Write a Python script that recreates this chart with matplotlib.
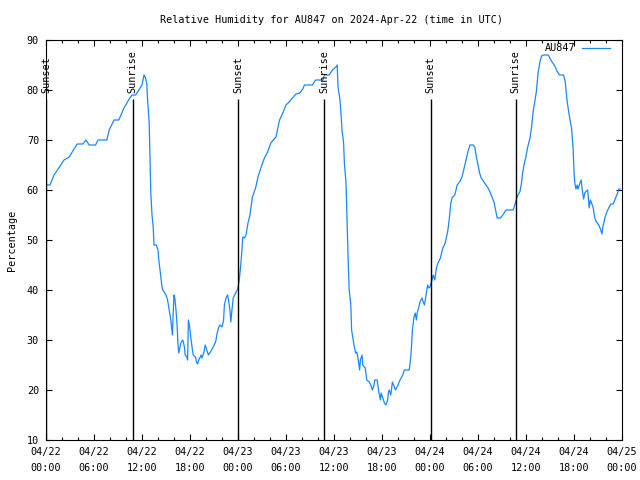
import matplotlib
matplotlib.use('Agg')
import matplotlib.pyplot as plt
import matplotlib.dates as mdates
from matplotlib.lines import Line2D
import datetime

# hours since 2024-04-22 00:00 UTC and relative humidity (%)
hours = [0.0, 0.5, 1.0, 1.6, 2.25, 2.9, 3.5, 3.9, 4.6, 5.0, 5.4, 6.2, 6.5, 7.6, 7.9, 8.5, 9.1, 9.75,
         10.4, 10.75, 11.2, 11.6, 12.0, 12.25, 12.4, 12.6, 12.7, 12.9, 13.0, 13.1, 13.25, 13.4, 13.5,
         13.8, 14.0, 14.1, 14.3, 14.5, 14.6, 15.0, 15.2, 15.4, 15.6, 15.7, 15.8, 15.9, 16.0, 16.1,
         16.25, 16.4, 16.5, 16.6, 16.75, 16.9, 17.1, 17.3, 17.4, 17.6, 17.7, 17.8, 17.95, 18.1, 18.25,
         18.4, 18.7, 18.8, 18.95, 19.1, 19.4, 19.5, 19.75, 19.9, 20.1, 20.3, 20.7, 20.9, 21.2, 21.4,
         21.6, 21.75, 22.0, 22.2, 22.3, 22.5, 22.7, 22.85, 23.0, 23.1, 23.25, 23.4, 23.7, 23.9, 24.0,
         24.2, 24.4, 24.6, 24.8, 25.0, 25.25, 25.5, 25.8, 26.2, 26.5, 26.9, 27.3, 27.7, 28.1, 28.4,
         28.75, 29.0, 29.2, 29.6, 30.0, 30.4, 30.8, 31.25, 31.7, 32.1, 32.3, 33.3, 33.7, 34.6, 34.8,
         35.4, 35.8, 36.25, 36.4, 36.5, 36.75, 36.9, 37.0, 37.2, 37.3, 37.5, 37.6, 37.7, 37.8, 37.9,
         38.1, 38.2, 38.4, 38.5, 38.7, 38.85, 39.0, 39.2, 39.3, 39.5, 39.6, 39.9, 40.1, 40.4, 40.6,
         40.8, 41.0, 41.1, 41.4, 41.6, 41.8, 41.9, 42.1, 42.3, 42.5, 42.7, 42.8, 42.9, 43.1, 43.3,
         43.45, 43.7, 44.0, 44.25, 44.6, 44.8, 45.4, 45.6, 45.7, 45.8, 46.0, 46.15, 46.3, 46.4, 46.6,
         46.75, 47.0, 47.15, 47.3, 47.45, 47.6, 47.7, 47.85, 48.0, 48.25, 48.4, 48.6, 48.8, 49.0,
         49.3, 49.6, 49.9, 50.2, 50.4, 50.6, 50.75, 51.1, 51.4, 51.7, 52.0, 52.3, 52.6, 52.8, 53.0,
         53.4, 53.6, 53.8, 54.0, 54.2, 54.4, 54.75, 55.0, 55.25, 55.5, 55.75, 56.0, 56.2, 56.4, 56.8,
         57.1, 57.5, 58.4, 58.6, 58.8, 59.0, 59.25, 59.4, 59.6, 59.8, 60.0, 60.2, 60.5, 60.7, 60.9,
         61.1, 61.3, 61.5, 61.75, 61.95, 62.2, 62.8, 63.0, 63.3, 63.6, 63.9, 64.2, 64.7, 64.9, 65.1,
         65.3, 65.5, 65.7, 65.9, 66.0, 66.1, 66.25, 66.4, 66.5, 66.75, 66.9, 67.0, 67.2, 67.35, 67.5,
         67.7, 67.8, 67.9, 68.05, 68.2, 68.4, 68.6, 68.8, 69.1, 69.3, 69.5, 69.6, 69.9, 70.1, 70.4,
         70.6, 70.9, 71.1, 71.4, 71.6, 71.75]
rh = [61, 61, 63, 64.4, 66, 66.6, 68.2, 69.2, 69.2, 70, 69, 69, 70, 70, 72, 74, 74, 76.4,
      78.2, 79, 79, 80, 81, 83, 82.6, 81.3, 78, 73.4, 66, 59.4, 55, 52.6, 49,
      49, 48, 46, 43.4, 40.6, 40, 39, 38, 36, 34, 32.4, 31, 35.4, 39, 38.4,
      36, 32.6, 29, 27.4, 28.6, 29.6, 30, 28.6, 27, 26.6, 26, 34, 32.6, 30.6, 28.6,
      27, 26.6, 25.6, 25.2, 26, 27, 26.4, 27.6, 29, 28, 27, 28, 28.6, 29.6, 31.4,
      32.6, 33, 32.6, 34, 37, 38.4, 39, 37.6, 36, 33.6, 36, 38.4, 39.4, 40, 40.4,
      42.6, 46, 50.6, 50.4, 51, 53.4, 55, 58.6, 60.4, 62.6, 64.6, 66.4, 67.6, 69.4, 70,
      70.6, 72.6, 74, 75.4, 77, 77.6, 78.4, 79.2, 79.4, 80.2, 81, 81, 82, 82, 83,
      83, 84, 84.6, 85, 80.7, 78, 74.7, 72, 69.4, 65.4, 61.4, 55.4, 50, 44.6, 40,
      37, 32, 30, 29, 27.4, 27.6, 26.4, 24, 26, 27, 25, 24.4, 22, 21.6, 21,
      20, 21, 22, 22, 19.6, 18, 19.4, 18.4, 17.4, 17, 18, 19.6, 20, 19, 21.6,
      21, 20, 21, 22, 23, 24, 24, 26.6, 29, 32, 34.6, 35.4, 34, 35.4, 36.6,
      37.6, 38.4, 37.6, 37, 38.4, 40, 41, 40.4, 40.6, 42, 43, 42, 44.4, 45.4,
      46.4, 48.4, 49.4, 51.6, 54, 57.4, 58.4, 59, 61, 61.6, 62.6, 64.6, 66.6, 68, 69,
      69, 68.6, 66.6, 65, 63.4, 62.4, 61.6, 61, 60.4, 59.6, 58.6, 57.6, 56, 54.4, 54.4,
      55, 56, 56, 57, 58.2, 59, 59.7, 61, 63.6, 65.4, 66.7, 68.5, 70.4, 72.7, 75.7,
      77.7, 79.7, 83.3, 85.7, 86.8, 87, 87, 86.3, 85.5, 84.8, 83.7, 83, 83, 81.7, 78.3,
      76, 74, 72.3, 68, 63.7, 61.4, 60.2, 61, 60.2, 61.4, 62, 60.4, 58.2, 59.4, 59.7,
      60, 58.4, 56.4, 58, 57.4, 56.4, 54.4, 53.6, 53, 52.2, 51.2, 52.6, 54.6, 55.6, 56.6,
      57.2, 57.2, 58, 59.2, 60.2, 60.2]

event_hours = [0.0, 10.85, 24.03, 34.75, 48.07, 58.7]
event_names = ['Sunset', 'Sunrise', 'Sunset', 'Sunrise', 'Sunset', 'Sunrise']

base = datetime.datetime(2024, 4, 22)
times = [base + datetime.timedelta(hours=h) for h in hours]
event_times = [base + datetime.timedelta(hours=h) for h in event_hours]

plt.rcParams['font.family'] = 'DejaVu Sans Mono'
plt.rcParams['font.size'] = 7.3

fig = plt.figure(figsize=(6.4, 4.8), dpi=100)
ax = fig.add_axes([46/640, 40/480, 576/640, 400/480])

ax.plot(times, rh, color='#1888ff', lw=0.9)

ax.vlines(event_times, 10, 78.2, color='black', lw=1)
for t, name in zip(event_times, event_names):
    ax.text(t, 79.4, name, rotation=90, ha='center', va='bottom')

ax.set_xlim(base, base + datetime.timedelta(hours=72))
ax.set_ylim(10, 90)
ax.set_yticks(range(10, 91, 10))
ax.xaxis.set_major_locator(mdates.HourLocator(byhour=[0, 6, 12, 18]))
ax.xaxis.set_minor_locator(mdates.HourLocator(interval=2))
ax.xaxis.set_major_formatter(mdates.DateFormatter('%m/%d\n%H:%M'))
ax.tick_params(which='both', direction='in', top=True, right=True, width=0.8)
ax.tick_params(which='major', length=4.5, pad=5)
ax.tick_params(which='minor', length=2.5)
for s in ax.spines.values():
    s.set_linewidth(0.8)

# legend in gnuplot style: text then line sample
ax.text(0.920, 0.98, 'AU847', transform=ax.transAxes, ha='right', va='center')
ax.add_line(Line2D([0.9306, 0.979], [0.98, 0.98], transform=ax.transAxes, color='#1888ff', lw=0.9))

fig.text(332/640, 1 - 20/480, 'Relative Humidity for AU847 on 2024-Apr-22 (time in UTC)',
         ha='center', va='center')
fig.text(12/640, 0.5, 'Percentage', rotation=90, ha='center', va='center')

fig.canvas.draw()
for lab in ax.get_xticklabels():
    lab.set_linespacing(1.75)

fig.savefig('out.png', dpi=100)
